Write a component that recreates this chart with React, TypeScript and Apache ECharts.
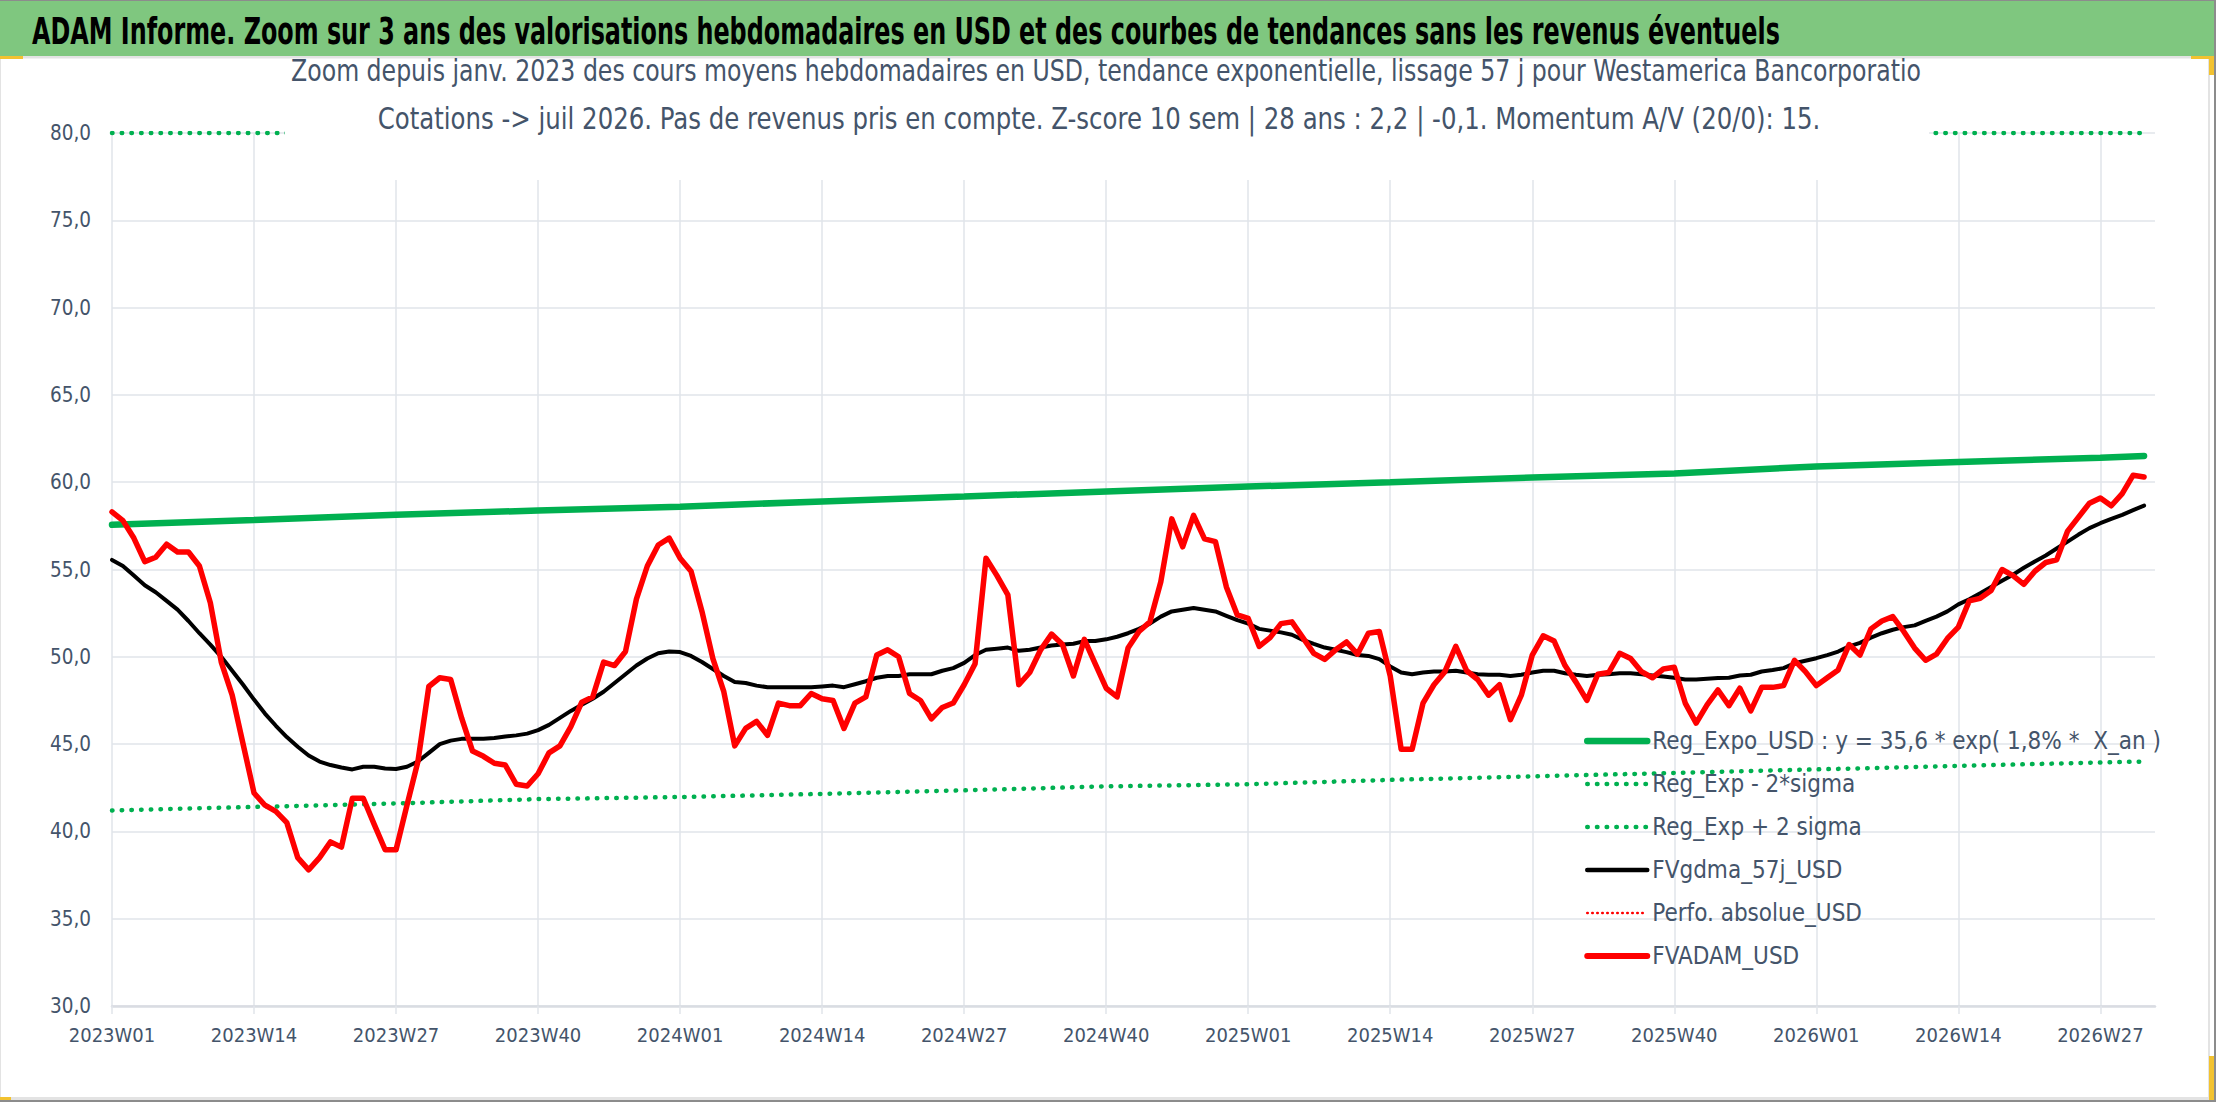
import React, { useEffect, useRef } from 'react';
import * as echarts from 'echarts';

const FONT = "'Liberation Sans Narrow', 'DejaVu Sans Condensed', 'Liberation Sans', sans-serif";
const TEXT_COLOR = '#44546A';

// semaines ISO affichées sur l'axe (2023W01 -> 2026W32)
const years = [2023, 2024, 2025, 2026];
const weeksShown = 188;
const weeks: string[] = [];
years.forEach((y) => {
  for (let w = 1; w <= 52; w++) weeks.push(`${y}W${w < 10 ? '0' + w : w}`);
});
const categories = weeks.slice(0, weeksShown);

const yTicks = { min: 30, max: 80, step: 5 };

// cours moyens hebdomadaires
const fvAdam = [
  58.3, 57.8, 56.8, 55.45, 55.7, 56.45, 56.0, 56.0, 55.2, 53.1,
  49.7, 47.8, 45.0, 42.2, 41.5, 41.15, 40.5, 38.5, 37.8, 38.5,
  39.4, 39.1, 41.9, 41.9, 40.4, 38.95, 38.95, 41.5, 44.0, 48.3,
  48.8, 48.7, 46.5, 44.6, 44.3, 43.9, 43.8, 42.7, 42.6, 43.3,
  44.5, 44.9, 46.0, 47.4, 47.7, 49.7, 49.5, 50.3, 53.3, 55.2,
  56.4, 56.8, 55.65, 54.9, 52.6, 49.9, 48.0, 44.9, 45.9, 46.3,
  45.5, 47.35, 47.2, 47.2, 47.9, 47.6, 47.5, 45.9, 47.35, 47.7,
  50.1, 50.4, 50.0, 47.9, 47.5, 46.45, 47.1, 47.35, 48.4, 49.6,
  55.65, 54.65, 53.55, 48.4, 49.1, 50.4, 51.3, 50.7, 48.9, 51.0,
  49.6, 48.2, 47.7, 50.5, 51.45, 52.0, 54.3, 57.9, 56.3, 58.1,
  56.75, 56.6, 54.0, 52.4, 52.2, 50.6, 51.1, 51.9, 52.0, 51.1,
  50.2, 49.85, 50.4, 50.85, 50.15, 51.35, 51.45, 48.9, 44.7, 44.7,
  47.35, 48.4, 49.15, 50.6, 49.2, 48.7, 47.8, 48.4, 46.4, 47.8,
  50.1, 51.2, 50.9, 49.5, 48.55, 47.5, 49.0, 49.1, 50.2, 49.9,
  49.15, 48.8, 49.3, 49.4, 47.35, 46.2, 47.25, 48.1, 47.2, 48.2,
  46.9, 48.25, 48.25, 48.35, 49.8, 49.15, 48.35, 48.8, 49.25, 50.7,
  50.1, 51.6, 52.05, 52.3, 51.45, 50.5, 49.8, 50.15, 51.05, 51.7,
  53.2, 53.35, 53.8, 55.0, 54.65, 54.15, 54.9, 55.4, 55.55, 57.2,
  58.0, 58.8, 59.1, 58.65, 59.35, 60.4, 60.3,
];

// moyenne mobile 57 j
const fvGdma = [
  55.55, 55.2, 54.65, 54.1, 53.7, 53.2, 52.7, 52.05, 51.35, 50.7,
  50.0, 49.2, 48.4, 47.55, 46.75, 46.05, 45.4, 44.85, 44.35, 44.0,
  43.8, 43.66, 43.55, 43.7, 43.7, 43.6, 43.57, 43.7, 44.0, 44.5,
  45.0, 45.2, 45.3, 45.3, 45.3, 45.35, 45.44, 45.5, 45.6, 45.8,
  46.1, 46.5, 46.9, 47.25, 47.6, 48.0, 48.5, 49.0, 49.5, 49.9,
  50.2, 50.3, 50.27, 50.05, 49.7, 49.3, 48.9, 48.55, 48.5, 48.35,
  48.26, 48.26, 48.26, 48.26, 48.26, 48.3, 48.35, 48.26, 48.43, 48.6,
  48.8, 48.9, 48.9, 49.0, 49.0, 49.0, 49.2, 49.35, 49.65, 50.1,
  50.4, 50.46, 50.53, 50.34, 50.4, 50.53, 50.65, 50.7, 50.75, 50.9,
  50.9, 51.0, 51.15, 51.35, 51.6, 51.9, 52.3, 52.6, 52.7, 52.8,
  52.7, 52.6, 52.35, 52.1, 51.9, 51.6, 51.5, 51.4, 51.26, 50.97,
  50.74, 50.53, 50.4, 50.27, 50.1, 50.05, 49.87, 49.45, 49.1, 49.0,
  49.1, 49.16, 49.16, 49.2, 49.1, 49.0, 48.97, 48.97, 48.9, 48.97,
  49.1, 49.2, 49.2, 49.06, 48.97, 48.9, 48.97, 49.0, 49.06, 49.06,
  49.0, 48.93, 48.87, 48.8, 48.7, 48.7, 48.74, 48.78, 48.8, 48.93,
  48.97, 49.16, 49.24, 49.35, 49.63, 49.77, 49.92, 50.1, 50.3, 50.6,
  50.8, 51.1, 51.35, 51.55, 51.7, 51.8, 52.06, 52.3, 52.6, 53.0,
  53.3, 53.64, 54.0, 54.35, 54.7, 55.1, 55.46, 55.8, 56.2, 56.6,
  57.0, 57.37, 57.65, 57.9, 58.13, 58.4, 58.66,
];

// tendance exponentielle, relevée aux semaines repères [index, valeur]
const regExpo = [
  [0, 57.56], [13, 57.84], [26, 58.13], [39, 58.38], [52, 58.6], [65, 58.9],
  [78, 59.18], [91, 59.47], [104, 59.75], [117, 60.0], [130, 60.27], [143, 60.5],
  [156, 60.9], [169, 61.15], [182, 61.4], [186, 61.5],
];
const regLow = [
  [0, 41.2], [13, 41.4], [26, 41.6], [39, 41.85], [52, 41.97], [65, 42.15],
  [78, 42.35], [91, 42.58], [104, 42.7], [117, 42.95], [130, 43.15], [143, 43.35],
  [156, 43.55], [169, 43.75], [182, 43.95], [186, 44.0],
];
// au-dessus du maximum de l'axe : visible collée à 80
const regHigh = [[0, 80], [186, 80]];
const perfoAbs: number[] = [];

const TITLE = 'ADAM Informe. Zoom sur 3 ans des valorisations hebdomadaires en USD et des courbes de tendances sans les revenus éventuels';
const SUBTITLE = [
  'Zoom depuis janv. 2023 des cours moyens hebdomadaires en USD, tendance exponentielle, lissage 57 j pour Westamerica Bancorporatio',
  'Cotations -> juil 2026. Pas de revenus pris en compte. Z-score 10 sem | 28 ans : 2,2 | -0,1. Momentum A/V (20/0): 15.',
];

const GREEN = '#00B050';
const RED = '#FF0000';
const GRID = '#E1E4EA';

const DOT_GREEN = { width: 4.5, type: [0.5, 9.2] as number[], cap: 'round' as const };
const DOT_RED = { width: 2.5, type: [0.5, 4.5] as number[], cap: 'round' as const };

const App: React.FC = () => {
  const chartRef = useRef<HTMLDivElement>(null);

  useEffect(() => {
    if (!chartRef.current) return;
    const chart = echarts.init(chartRef.current, undefined, { renderer: 'svg' });

    const names = [
      'Reg_Expo_USD : y = 35,6 * exp( 1,8% *  X_an )',
      'Reg_Exp - 2*sigma',
      'Reg_Exp + 2 sigma',
      'FVgdma_57j_USD',
      'Perfo. absolue_USD',
      'FVADAM_USD',
    ];

    const option: echarts.EChartsOption = {
      animation: false,
      backgroundColor: '#fff',
      textStyle: { fontFamily: FONT },
      graphic: [
        // cadre et bandeau titre
        { type: 'rect', z: 0, shape: { x: 0, y: 0, width: 2216, height: 1 }, style: { fill: '#8C8C8C' } },
        { type: 'rect', z: 0, shape: { x: 0, y: 1, width: 2214, height: 55 }, style: { fill: '#7FC77F' } },
        { type: 'rect', z: 0, shape: { x: 2214, y: 0, width: 2, height: 1102 }, style: { fill: '#8C8C8C' } },
        { type: 'rect', z: 0, shape: { x: 0, y: 56, width: 2210, height: 2.5 }, style: { fill: '#E3E3E3' } },
        { type: 'rect', z: 0, shape: { x: 2208, y: 56, width: 2, height: 1044 }, style: { fill: '#E3E3E3' } },
        { type: 'rect', z: 0, shape: { x: 0, y: 58, width: 1, height: 1040 }, style: { fill: '#E3E3E3' } },
        { type: 'rect', z: 0, shape: { x: 0, y: 1097, width: 2210, height: 3 }, style: { fill: '#E3E3E3' } },
        { type: 'rect', z: 0, shape: { x: 0, y: 1100, width: 2216, height: 2 }, style: { fill: '#8C8C8C' } },
        { type: 'rect', z: 1, shape: { x: 0, y: 56, width: 23, height: 3 }, style: { fill: '#F2C230' } },
        { type: 'rect', z: 1, shape: { x: 2191, y: 56, width: 23, height: 3 }, style: { fill: '#F2C230' } },
        { type: 'rect', z: 1, shape: { x: 2209, y: 56, width: 5, height: 19 }, style: { fill: '#F2C230' } },
        { type: 'rect', z: 1, shape: { x: 2209, y: 1056, width: 5, height: 44 }, style: { fill: '#F2C230' } },
        { type: 'rect', z: 1, shape: { x: 0, y: 1097, width: 11, height: 3 }, style: { fill: '#F2C230' } },
        {
          type: 'text',
          z: 8,
          x: 32,
          y: 31,
          scaleX: 0.717,
          style: {
            text: TITLE,
            fontFamily: FONT,
            fontSize: 37,
            fontWeight: 'bold',
            fill: '#000',
            textVerticalAlign: 'middle',
          },
        },
        // fond blanc du sous-titre, posé sur le quadrillage
        { type: 'rect', z: 5, shape: { x: 285, y: 92, width: 1644, height: 88 }, style: { fill: '#fff' } },
        {
          type: 'text',
          z: 8,
          x: 1106,
          y: 71,
          scaleX: 0.875,
          style: {
            text: SUBTITLE[0],
            fontFamily: FONT,
            fontSize: 30,
            fill: TEXT_COLOR,
            textAlign: 'center',
            textVerticalAlign: 'middle',
          },
        },
        {
          type: 'text',
          z: 8,
          x: 1099,
          y: 119,
          scaleX: 0.905,
          style: {
            text: SUBTITLE[1],
            fontFamily: FONT,
            fontSize: 30,
            fill: TEXT_COLOR,
            textAlign: 'center',
            textVerticalAlign: 'middle',
          },
        },
      ],
      grid: { left: 112, right: 61, top: 133, bottom: 96, containLabel: false },
      legend: {
        orient: 'vertical',
        left: 1579,
        top: 721,
        itemWidth: 60,
        itemHeight: 20,
        itemGap: 13,
        itemStyle: { opacity: 0 },
        textStyle: { fontFamily: FONT, fontSize: 24, lineHeight: 30, color: TEXT_COLOR },
        data: [
          { name: names[0], lineStyle: { width: 6.5, cap: 'round' } },
          { name: names[1], lineStyle: { ...DOT_GREEN } },
          { name: names[2], lineStyle: { ...DOT_GREEN } },
          { name: names[3], lineStyle: { width: 4.5, cap: 'round' } },
          { name: names[4], lineStyle: { ...DOT_RED } },
          { name: names[5], lineStyle: { width: 6, cap: 'round' } },
        ],
      },
      xAxis: {
        type: 'category',
        data: categories,
        boundaryGap: false,
        axisLine: { lineStyle: { color: '#D9DCE2', width: 2.5 } },
        axisTick: { show: true, interval: 12, length: 8, lineStyle: { color: GRID, width: 1.5 } },
        axisLabel: { interval: 12, fontSize: 20, color: TEXT_COLOR, margin: 19, fontFamily: FONT },
        splitLine: { show: true, interval: 12, lineStyle: { color: GRID, width: 1.5 } },
      },
      yAxis: {
        type: 'value',
        min: yTicks.min,
        max: yTicks.max,
        interval: yTicks.step,
        axisLine: { show: false },
        axisTick: { show: false },
        axisLabel: {
          fontSize: 20.5,
          color: TEXT_COLOR,
          margin: 21,
          fontFamily: FONT,
          formatter: (v: number) => v.toFixed(1).replace('.', ','),
        },
        splitLine: { lineStyle: { color: GRID, width: 1.5 } },
      },
      series: [
        {
          name: names[0],
          type: 'line',
          data: regExpo,
          symbol: 'none',
          lineStyle: { color: GREEN, width: 6.5, cap: 'round' },
          itemStyle: { color: GREEN },
        },
        {
          name: names[1],
          type: 'line',
          data: regLow,
          symbol: 'none',
          lineStyle: { color: GREEN, ...DOT_GREEN },
          itemStyle: { color: GREEN },
        },
        {
          name: names[2],
          type: 'line',
          data: regHigh,
          symbol: 'none',
          lineStyle: { color: GREEN, ...DOT_GREEN },
          itemStyle: { color: GREEN },
        },
        {
          name: names[3],
          type: 'line',
          data: fvGdma,
          symbol: 'none',
          lineStyle: { color: '#000', width: 4, cap: 'round', join: 'round' },
          itemStyle: { color: '#000' },
        },
        {
          name: names[4],
          type: 'line',
          data: perfoAbs,
          symbol: 'none',
          lineStyle: { color: RED, ...DOT_RED },
          itemStyle: { color: RED },
        },
        {
          name: names[5],
          type: 'line',
          data: fvAdam,
          symbol: 'none',
          lineStyle: { color: RED, width: 5.5, cap: 'round', join: 'round' },
          itemStyle: { color: RED },
        },
      ],
    };

    chart.setOption(option);

    const handleResize = () => chart.resize();
    window.addEventListener('resize', handleResize);

    return () => {
      window.removeEventListener('resize', handleResize);
      chart.dispose();
    };
  }, []);

  return (
    <div
      ref={chartRef}
      style={{ position: 'absolute', left: 0, top: 0, width: 2216, height: 1102 }}
    />
  );
};

export default App;
